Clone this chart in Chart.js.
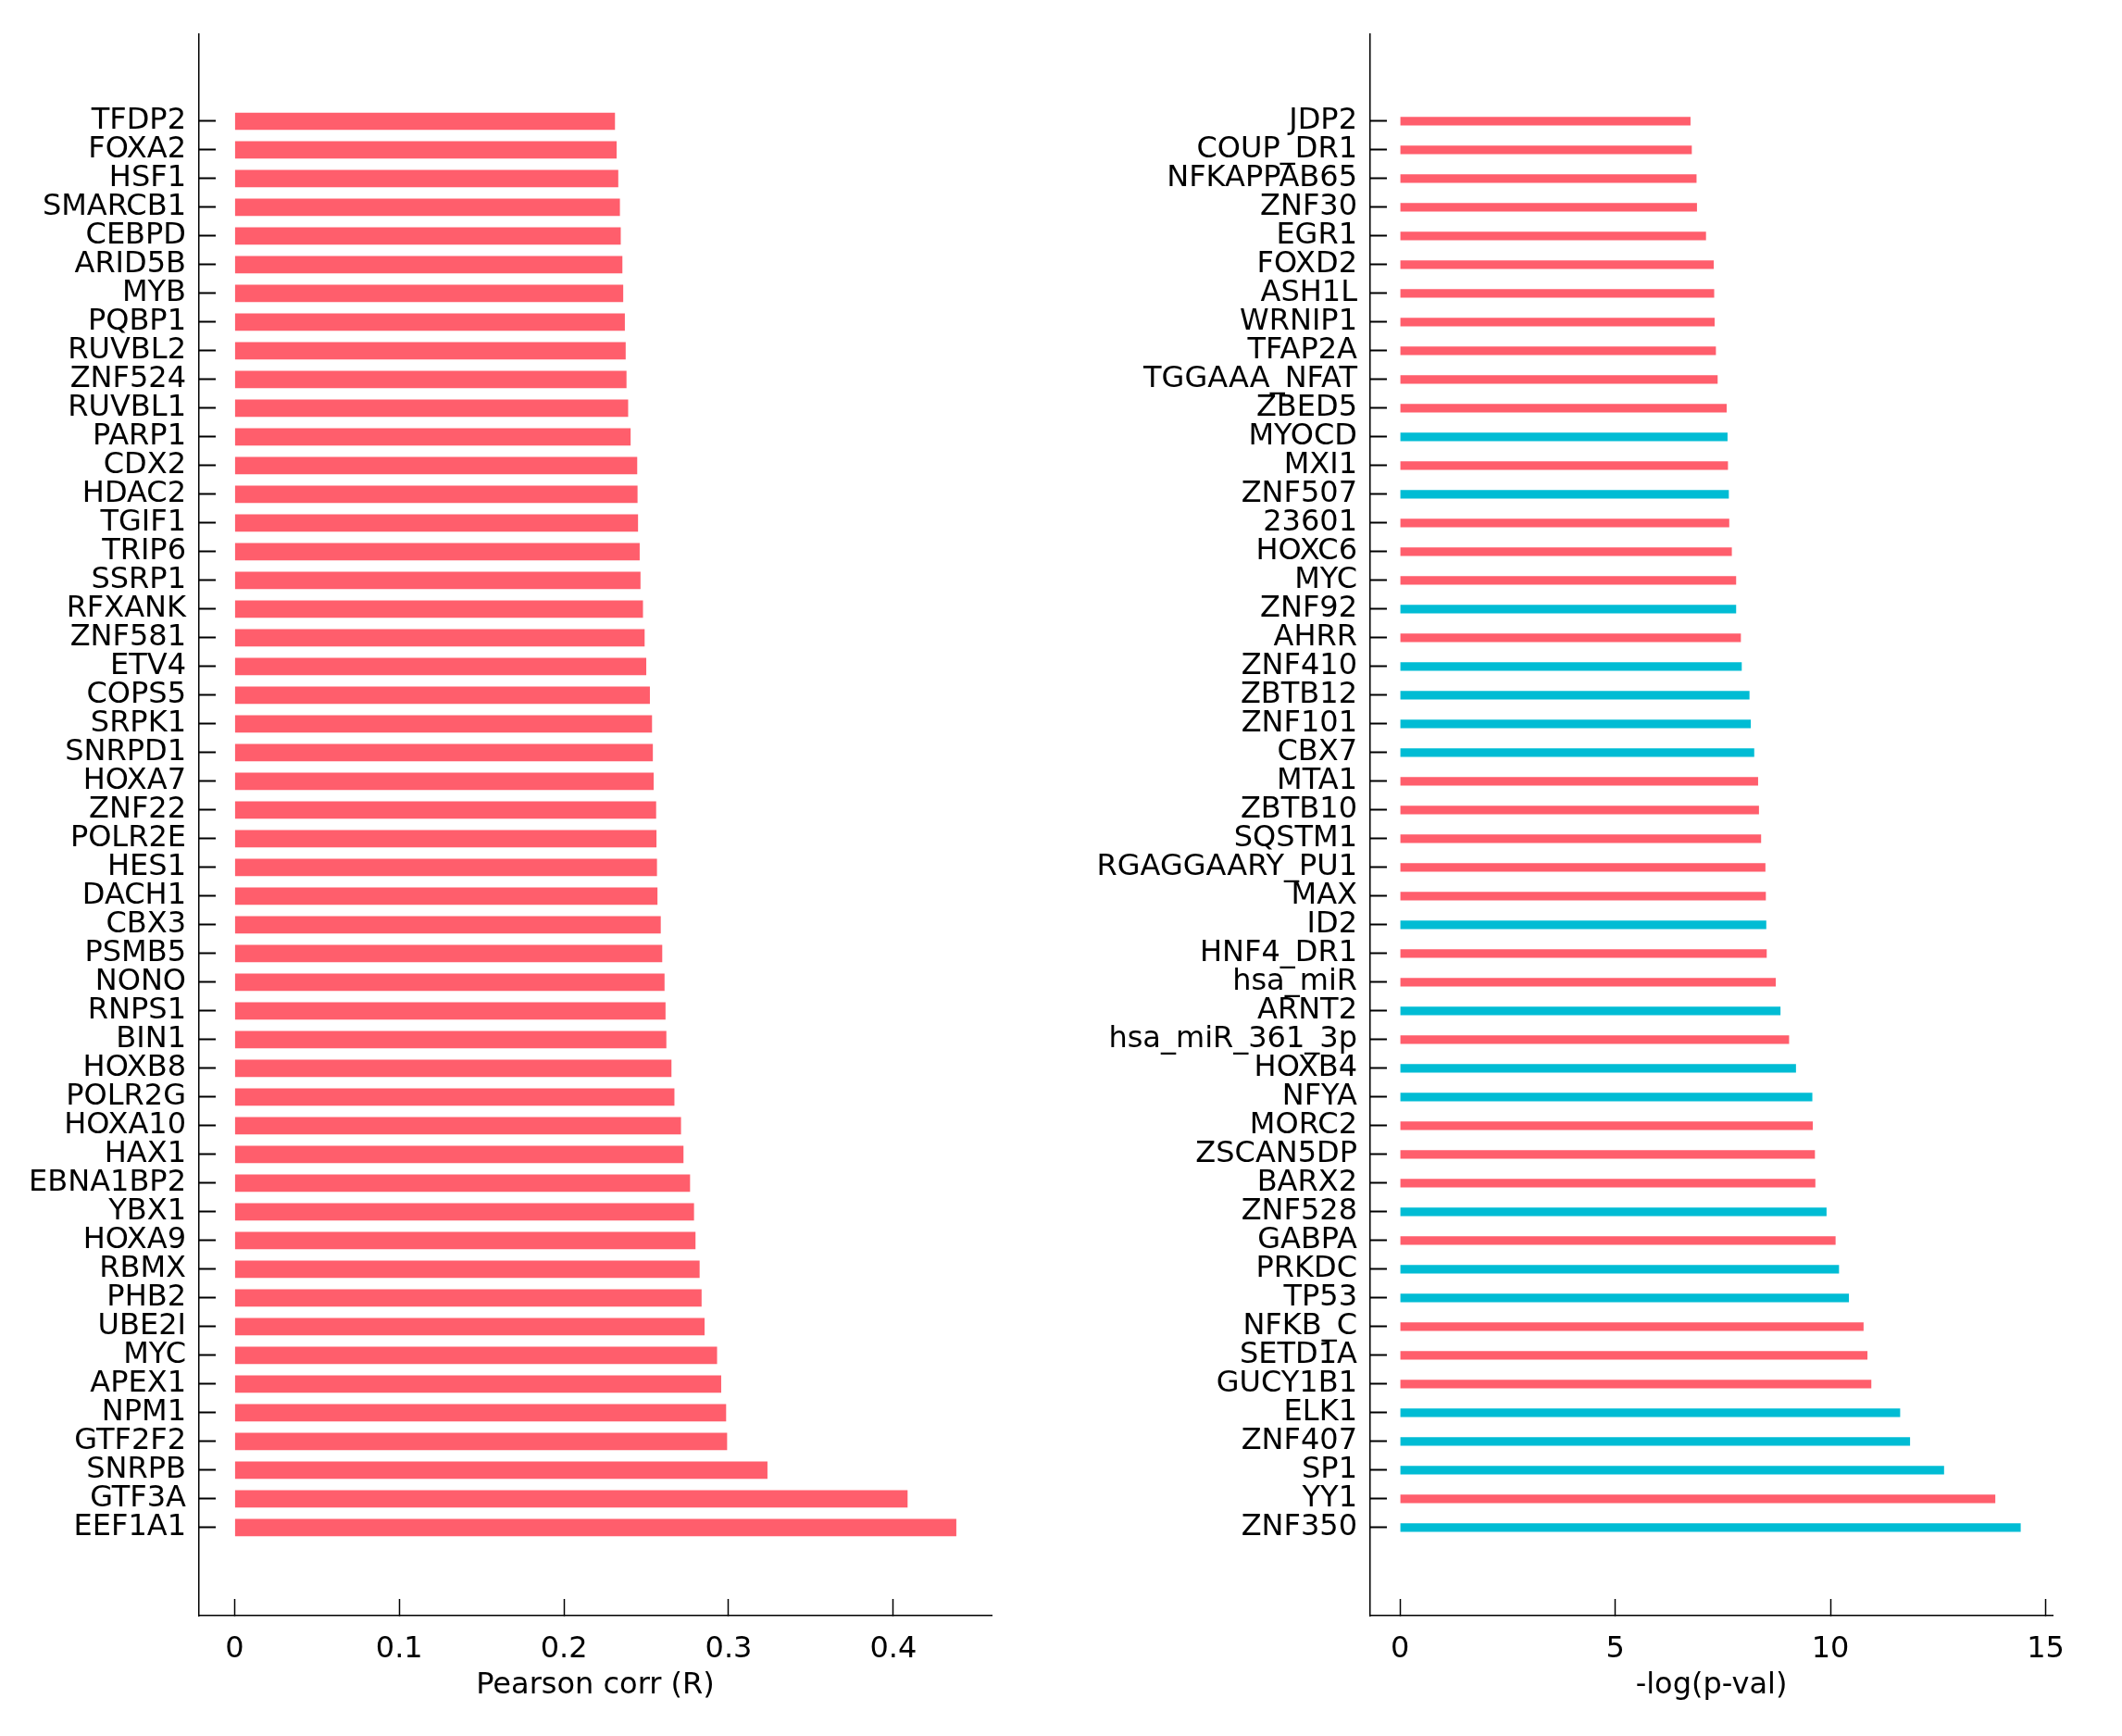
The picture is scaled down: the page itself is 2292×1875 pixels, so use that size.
<!DOCTYPE html>
<html>
<head>
<meta charset="utf-8">
<title>Pearson corr / -log(p-val)</title>
<script src="https://cdn.jsdelivr.net/npm/chart.js@4.4.1/dist/chart.umd.min.js"></script>
<style>
  html, body { margin: 0; padding: 0; background: #fff; }
  #wrap { position: relative; width: 2292px; height: 1875px; }
  .panel { position: absolute; top: 0; width: 1146px; height: 1875px; }
</style>
</head>
<body>
<div id="wrap">
  <div class="panel" style="left:0"><canvas id="corrChart"></canvas></div>
  <div class="panel" style="left:1146px"><canvas id="pvalChart"></canvas></div>
</div>
<script>
// left panel: top to bottom
const corrLabels = [
  "TFDP2", "FOXA2", "HSF1", "SMARCB1", "CEBPD", "ARID5B", "MYB", "PQBP1", "RUVBL2", "ZNF524",
  "RUVBL1", "PARP1", "CDX2", "HDAC2", "TGIF1", "TRIP6", "SSRP1", "RFXANK", "ZNF581", "ETV4",
  "COPS5", "SRPK1", "SNRPD1", "HOXA7", "ZNF22", "POLR2E", "HES1", "DACH1", "CBX3", "PSMB5",
  "NONO", "RNPS1", "BIN1", "HOXB8", "POLR2G", "HOXA10", "HAX1", "EBNA1BP2", "YBX1", "HOXA9",
  "RBMX", "PHB2", "UBE2I", "MYC", "APEX1", "NPM1", "GTF2F2", "SNRPB", "GTF3A", "EEF1A1",
];
const corrValues = [
  0.231, 0.232, 0.233, 0.234, 0.2345, 0.2355, 0.236, 0.237, 0.2375, 0.238,
  0.239, 0.2405, 0.2445, 0.2447, 0.245, 0.246, 0.2465, 0.248, 0.249, 0.250,
  0.2522, 0.2535, 0.254, 0.2545, 0.256, 0.2562, 0.2565, 0.2568, 0.2588, 0.2597,
  0.2611, 0.2617, 0.2622, 0.2653, 0.2671, 0.2711, 0.2726, 0.2766, 0.279, 0.2799,
  0.2824, 0.2836, 0.2854, 0.293, 0.2955, 0.2985, 0.2991, 0.3236, 0.4087, 0.4383,
];
const corrTicks = [0, 0.1, 0.2, 0.3, 0.4];

// right panel: top to bottom
const pvalLabels = [
  "JDP2", "COUP_DR1", "NFKAPPAB65", "ZNF30", "EGR1", "FOXD2", "ASH1L", "WRNIP1", "TFAP2A", "TGGAAA_NFAT",
  "ZBED5", "MYOCD", "MXI1", "ZNF507", "23601", "HOXC6", "MYC", "ZNF92", "AHRR", "ZNF410",
  "ZBTB12", "ZNF101", "CBX7", "MTA1", "ZBTB10", "SQSTM1", "RGAGGAARY_PU1", "MAX", "ID2", "HNF4_DR1",
  "hsa_miR", "ARNT2", "hsa_miR_361_3p", "HOXB4", "NFYA", "MORC2", "ZSCAN5DP", "BARX2", "ZNF528", "GABPA",
  "PRKDC", "TP53", "NFKB_C", "SETD1A", "GUCY1B1", "ELK1", "ZNF407", "SP1", "YY1", "ZNF350",
];
const pvalValues = [
  6.75, 6.78, 6.89, 6.90, 7.11, 7.29, 7.30, 7.31, 7.34, 7.38,
  7.59, 7.61, 7.62, 7.64, 7.65, 7.71, 7.81, 7.81, 7.92, 7.94,
  8.12, 8.15, 8.23, 8.32, 8.34, 8.39, 8.49, 8.50, 8.51, 8.52,
  8.73, 8.84, 9.04, 9.20, 9.58, 9.59, 9.64, 9.65, 9.91, 10.12,
  10.20, 10.43, 10.77, 10.86, 10.95, 11.62, 11.85, 12.64, 13.83, 14.42,
];
// "+" drawn red, "-" drawn cyan
const pvalSign = [
  "+", "+", "+", "+", "+", "+", "+", "+", "+", "+",
  "+", "-", "+", "-", "+", "+", "+", "-", "+", "-",
  "-", "-", "-", "+", "+", "+", "+", "+", "-", "+",
  "+", "-", "+", "-", "-", "+", "+", "+", "-", "+",
  "-", "-", "+", "+", "+", "-", "-", "-", "+", "-",
];
const pvalTicks = [0, 5, 10, 15];

const colors = {
  red: "#ff5e6c",
  cyan: "#00bcd4",
};

Chart.defaults.font.family = "'DejaVu Sans', sans-serif";
Chart.defaults.color = "#000";

const FONT_SIZE = 32;

const makeGraph = (canvasId, labels, values, barColors, tickValues, opts) => {
  const ctx = document.getElementById(canvasId);
  const data = {
    datasets: [
      {
        data: values.map((v, i) => ({ x: v, y: i })),
        backgroundColor: barColors,
        borderWidth: 0,
        categoryPercentage: 1,
        barPercentage: opts.barPercentage,
      },
    ],
  };
  const config = {
    type: "bar",
    data,
    options: {
      indexAxis: "y",
      responsive: true,
      maintainAspectRatio: false,
      animation: false,
      layout: { padding: { top: 37, right: 75, bottom: 0, left: 0 } },
      plugins: {
        legend: { display: false },
        tooltip: { enabled: false },
      },
      scales: {
        x: {
          type: "linear",
          min: opts.xMin,
          max: opts.xMax,
          afterFit: (scale) => {
            scale.height = 130;
          },
          afterBuildTicks: (scale) => {
            scale.ticks = tickValues.map((v) => ({ value: v }));
          },
          border: { display: true, color: "#000", width: 1.5 },
          grid: {
            drawOnChartArea: false,
            drawTicks: true,
            tickLength: -18,
            tickWidth: 1.5,
            tickColor: "#000",
          },
          ticks: {
            autoSkip: false,
            maxRotation: 0,
            padding: 35,
            color: "#000",
            font: { size: FONT_SIZE },
            callback: (v) => String(v),
          },
          title: {
            display: true,
            text: opts.title,
            color: "#000",
            font: { size: FONT_SIZE },
            padding: { top: 0, bottom: 35 },
          },
        },
        y: {
          type: "linear",
          reverse: true,
          offset: false,
          min: -3.03,
          max: 52.07,
          afterFit: (scale) => {
            scale.width = opts.axisWidth;
            scale.paddingTop = 0;
            scale.paddingBottom = 0;
          },
          afterBuildTicks: (scale) => {
            scale.ticks = labels.map((_, i) => ({ value: i }));
          },
          border: { display: true, color: "#000", width: 1.5 },
          grid: {
            offset: false,
            drawOnChartArea: false,
            drawTicks: true,
            tickLength: -18,
            tickWidth: 2,
            tickColor: "#000",
          },
          ticks: {
            autoSkip: false,
            padding: 32,
            color: "#000",
            font: { size: FONT_SIZE },
            callback: (v) => labels[v],
          },
        },
      },
    },
  };
  return new Chart(ctx, config);
};

makeGraph(
  "corrChart",
  corrLabels,
  corrValues,
  corrLabels.map(() => colors.red),
  corrTicks,
  { xMin: -0.0216, xMax: 0.4597, axisWidth: 215, barPercentage: 0.6, title: "Pearson corr (R)" }
);

makeGraph(
  "pvalChart",
  pvalLabels,
  pvalValues,
  pvalSign.map((s) => (s === "-" ? colors.cyan : colors.red)),
  pvalTicks,
  { xMin: -0.69, xMax: 15.16, axisWidth: 334, barPercentage: 0.3, title: "-log(p-val)" }
);
</script>
</body>
</html>
